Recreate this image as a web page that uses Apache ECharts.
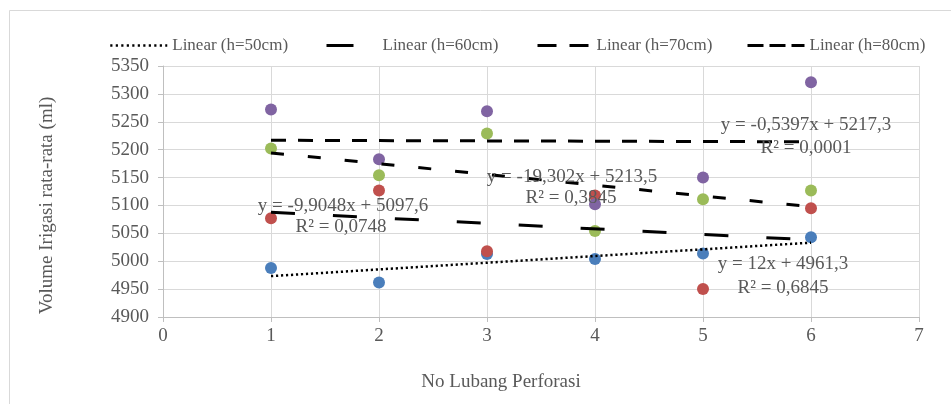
<!DOCTYPE html>
<html>
<head>
<meta charset="utf-8">
<script src="https://cdn.jsdelivr.net/npm/echarts@6/dist/echarts.min.js"></script>
<style>html,body{margin:0;padding:0;background:#fff;}#c{width:951px;height:404px;}</style>
</head>
<body>
<div id="c"></div>
<script>
var xValues = [1, 2, 3, 4, 5, 6];
var h50 = [4988, 4962, 5013, 5004, 5014, 5043];
var h60 = [5077, 5127, 5018, 5118, 4950, 5095];
var h70 = [5202, 5154, 5229, 5054, 5111, 5127];
var h80 = [5272, 5183, 5269, 5102, 5150, 5321];
var trendX = [1, 6];
var trend50 = [4973.3, 5033.3];
var trend60 = [5087.7, 5038.2];
var trend70 = [5194.2, 5097.7];
var trend80 = [5216.8, 5214.1];
var trendNames = ['Linear (h=50cm)', 'Linear (h=60cm)', 'Linear (h=70cm)', 'Linear (h=80cm)'];
var eqTexts = ['y = 12x + 4961,3', 'y = -9,9048x + 5097,6', 'y = -19,302x + 5213,5', 'y = -0,5397x + 5217,3'];
var r2Texts = ['R² = 0,6845', 'R² = 0,0748', 'R² = 0,3845', 'R² = 0,0001'];
var xTitle = 'No Lubang Perforasi';
var yTitle = 'Volume Irigasi rata-rata (ml)';

var FONT = '"Liberation Serif", "Times New Roman", serif';
var TXT = '#595959';
var colors = ['#4a7ebb', '#c0504d', '#9bbb59', '#8064a2'];

function pts(ys) { return xValues.map(function (x, i) { return [x, ys[i]]; }); }
function tl(ys) { return trendX.map(function (x, i) { return [x, ys[i]]; }); }

var scatterData = [h50, h60, h70, h80];
var trendData = [trend50, trend60, trend70, trend80];
var dashes = [[2.2, 2.8], [24, 38], [13, 24], [15, 12]];
var widths = [2.5, 3, 3, 3];

var series = [];
scatterData.forEach(function (d, i) {
  series.push({
    type: 'scatter', name: 'h' + i, data: pts(d), symbolSize: 12,
    itemStyle: { color: colors[i], opacity: 1 }, z: 2, silent: true
  });
});
trendData.forEach(function (d, i) {
  series.push({
    type: 'line', name: trendNames[i], data: tl(d), symbol: 'none',
    lineStyle: { color: '#000', width: widths[i], type: dashes[i], cap: 'butt' },
    itemStyle: { color: '#000' }, z: 3, silent: true
  });
});

var legendLefts = [104, 314, 528, 741];
var legendWidths = [57, 57, 57, 57];
var legendDash = [[2.2, 3.3], [0, 6, 27, 100], [0, 3, 19, 13, 19, 100], [16, 6]];
var legends = trendNames.map(function (n, i) {
  return {
    left: legendLefts[i], top: 32, itemWidth: legendWidths[i], itemHeight: 14,
    selectedMode: false,
    data: [n],
    itemStyle: { color: 'rgba(0,0,0,0)', borderWidth: 0, opacity: 0 },
    lineStyle: { color: '#000', width: widths[i], type: legendDash[i], cap: 'butt', opacity: 1 },
    textStyle: { fontFamily: FONT, fontSize: 17, color: TXT }
  };
});

var eqPos = [[783, 264, 783, 288], [343, 206, 341, 227], [572, 177, 571, 198], [806, 125, 806, 148]];
var graphics = [{
  type: 'rect', shape: { x: 9.5, y: 10.5, width: 1000, height: 500 },
  style: { fill: 'none', stroke: '#d9d9d9', lineWidth: 1 }, silent: true, z: 0
}];
eqTexts.forEach(function (t, i) {
  var p = eqPos[i];
  graphics.push({ type: 'text', x: p[0], y: p[1], z: 10,
    style: { text: t, fontFamily: FONT, fontSize: 19, fill: TXT, align: 'center', verticalAlign: 'middle' } });
  graphics.push({ type: 'text', x: p[2], y: p[3], z: 10,
    style: { text: r2Texts[i], fontFamily: FONT, fontSize: 19, fill: TXT, align: 'center', verticalAlign: 'middle' } });
});

var chart = echarts.init(document.getElementById('c'), null, { renderer: 'canvas' });
chart.setOption({
  animation: false,
  backgroundColor: '#fff',
  grid: { left: 163, right: 32, top: 66, bottom: 87 },
  legend: legends,
  xAxis: {
    type: 'value', min: 0, max: 7, interval: 1,
    name: xTitle, nameLocation: 'middle', nameGap: 56,
    nameTextStyle: { fontFamily: FONT, fontSize: 19, color: TXT, padding: [0, 80, 0, 0] },
    axisLine: { show: true, lineStyle: { color: '#bfbfbf', width: 1 } },
    axisTick: { show: true, length: 5, lineStyle: { color: '#bfbfbf' } },
    axisLabel: { fontFamily: FONT, fontSize: 19, color: TXT, margin: 10 },
    splitLine: { show: true, lineStyle: { color: '#d9d9d9', width: 1 } }
  },
  yAxis: {
    type: 'value', min: 4900, max: 5350, interval: 50,
    name: yTitle, nameLocation: 'middle', nameGap: 106, nameRotate: 90,
    nameTextStyle: { fontFamily: FONT, fontSize: 19, color: TXT, padding: [0, 28, 0, 0] },
    axisLine: { show: true, lineStyle: { color: '#bfbfbf', width: 1 } },
    axisTick: { show: true, length: 5, lineStyle: { color: '#bfbfbf' } },
    axisLabel: { fontFamily: FONT, fontSize: 19, color: TXT, margin: 14, formatter: function (v) { return String(v); } },
    splitLine: { show: true, lineStyle: { color: '#d9d9d9', width: 1 } }
  },
  graphic: graphics,
  series: series
});
</script>
</body>
</html>
